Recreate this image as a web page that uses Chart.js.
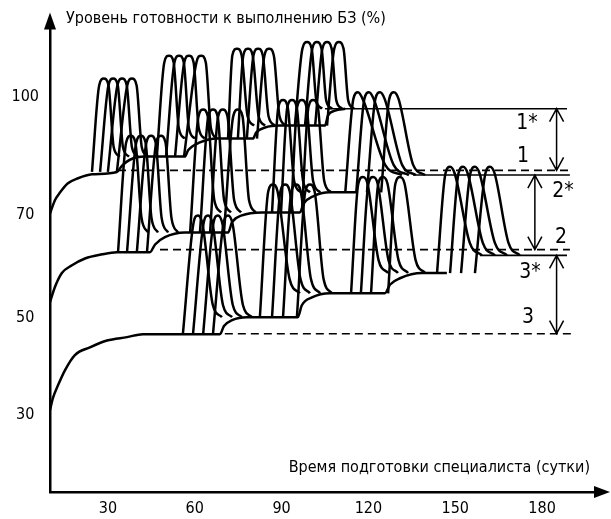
<!DOCTYPE html>
<html><head><meta charset="utf-8">
<script src="https://cdn.jsdelivr.net/npm/chart.js@4.4.1/dist/chart.umd.min.js"></script>
<style>html,body{margin:0;padding:0;background:#fff}#wrap{width:611px;height:519px}</style>
</head><body><div id="wrap"><canvas id="c" width="611" height="519"></canvas></div>
<script>
// ---- text ----
const yAxisTitle = 'Уровень готовности к выполнению БЗ (%)';
const xAxisTitle = 'Время подготовки специалиста (сутки)';
const xTickValues = [30, 60, 90, 120, 150, 180];
const yTickValues = [30, 50, 70, 100];

// ---- base / plateau curves of the three trajectories [day, %] ----
const env1 = [[10.0,70.2],[11.7,73.6],[13.5,75.6],[16.2,77.9],[19.7,79.2],[24.5,80.2],[33.1,80.8],[34.9,82.4],[37.6,83.9],[42.8,84.7],[56.6,84.7],[57.7,86.3],[61.8,88.3],[67.7,89.3],[80.1,89.3],[81.2,90.8],[84.3,92.1],[89.4,92.6],[105.0,92.6],[106.0,95.1],[108.5,96.4],[112.0,96.9]];
const env2 = [[10.0,53.1],[11.7,56.0],[14.1,58.7],[17.6,60.2],[22.1,61.5],[28.0,62.3],[33.1,62.7],[44.5,62.7],[46.3,64.2],[49.7,65.6],[56.6,66.5],[71.5,66.5],[72.9,68.5],[76.3,69.8],[83.2,70.5],[96.3,70.5],[97.7,72.8],[100.9,74.6],[106.7,75.6],[116.4,75.6]];
const env3 = [[10.0,31.0],[11.0,33.5],[12.8,36.2],[15.2,39.3],[18.6,42.4],[23.8,44.0],[29.7,45.4],[36.6,46.1],[42.1,46.7],[68.7,46.7],[70.1,48.4],[72.9,49.6],[78.0,50.2],[95.6,50.2],[97.0,52.5],[100.5,54.0],[106.7,54.8],[125.7,54.8],[127.5,56.5],[130.9,57.7],[138.5,58.7],[147.1,58.7]];

// ---- training peaks: 12 groups of 4 (groups 1a-1d, 2a-2d, 3a-3d) ----
const bellFeet = [
 [24.5,27.3,30.0,33.1],[46.9,50.1,53.2,56.3],[71.5,74.9,78.0,81.5],[94.6,98.1,101.6,105.7],
 [33.5,36.6,40.0,43.5],[58.4,61.8,65.3,70.1],[86.7,89.8,93.3,97.0],[112.0,115.8,119.5,124.4],
 [55.9,59.4,62.9,66.3],[82.5,86.7,90.5,95.3],[114.0,117.4,120.9,126.8],[143.7,148.2,152.0,156.8]
];
const bellPeaks = [
 [28.6,31.8,34.9,38.3],[51.1,54.6,58.0,62.2],[74.6,78.4,81.9,85.7],[98.8,102.2,105.7,109.8],
 [37.9,41.4,44.9,48.3],[62.9,66.3,69.7,74.9],[90.5,93.6,97.0,100.9],[116.4,120.2,124.0,128.8],
 [61.1,64.6,68.0,71.5],[87.0,91.2,95.0,99.8],[118.1,121.6,125.0,130.9],[148.2,152.7,156.8,162.0]
];
const bellEnds = [
 [34.1,37.3,40.4,43.8],[56.6,60.1,63.5,67.7],[80.5,84.3,87.7,91.5],[104.0,107.4,110.9,115.0],
 [43.9,47.3,50.8,54.2],[69.1,72.5,76.0,81.1],[96.7,99.8,103.3,107.1],[131.6,134.0,136.4,139.6],
 [69.4,72.9,76.3,79.8],[96.3,99.8,103.3,107.4],[126.8,130.2,133.7,139.6],[159.2,163.7,167.9,172.3]
];
const bellFrom = [80.8,84.7,89.3,92.6, 62.7,66.5,70.5,75.6, 46.7,50.2,54.8,58.7];
const bellTop  = [104.6,110.5,112.3,114.0, 90.0,96.7,99.1,101.1, 69.8,77.6,79.5,82.1];
const bellTo   = [84.7,89.3,92.6,96.9, 66.5,70.5,75.6,80.0, 50.2,54.8,58.7,62.1];

// ---- reference levels ----
const dashedLevels = [81.2, 63.2, 46.8];
const dashedFrom   = [33.5, 48.0, 70.4];
const dashedTo     = [190.3, 189.6, 191.3];
const starLevels   = [96.9, 80.0, 62.1];
const starFrom     = [105.0, 135.4, 158.5];
const starTo       = [188.6, 189.6, 188.6];
const arrowX       = [185.0, 177.5, 185.0];
const levelLabels  = ['1*','1','2*','2','3*','3'];
const levelLabelX  = [174.8,173.4,187.2,186.5,175.8,175.1];
const levelLabelY  = [93.1,84.7,75.8,65.6,58.7,50.2];

// ---- non-linear (piecewise) value axis as drawn in the original ----
const yAnchorValues = [14, 30, 50, 70, 100, 119.5];
const yAnchorFracs  = [0, 0.16314, 0.36864, 0.58898, 0.83898, 1];
function interp(v, xs, ys) {
  let i = 0;
  while (i < xs.length - 2 && v > xs[i+1]) i++;
  return ys[i] + (v - xs[i]) * (ys[i+1] - ys[i]) / (xs[i+1] - xs[i]);
}
class PiecewiseScale extends Chart.LinearScale {
  getPixelForValue(value) { return this.getPixelForDecimal(interp(value, yAnchorValues, yAnchorFracs)); }
  getValueForPixel(pixel) { return interp(this.getDecimalForPixel(pixel), yAnchorFracs, yAnchorValues); }
}
PiecewiseScale.id = 'piecewise';
PiecewiseScale.defaults = Chart.LinearScale.defaults;
Chart.register(PiecewiseScale);

// ---- datasets ----
const curve = {borderColor:'#000', borderWidth:2.5, pointRadius:0, fill:false, cubicInterpolationMode:'monotone'};
const datasets = [];
[env1, env2, env3].forEach(e => datasets.push(Object.assign({data: e.map(p => ({x:p[0], y:p[1]}))}, curve)));
bellFeet.forEach((feet, g) => feet.forEach((xf, k) => {
  const xp = bellPeaks[g][k], xe = bellEnds[g][k];
  const lo = bellFrom[g], hi = bellTop[g], to = bellTo[g];
  const xt = xp + 0.62 * (xe - xp);
  datasets.push(Object.assign({data: [
    {x:xf, y:lo}, {x:xp-1.6, y:hi-1.7}, {x:xp, y:hi}, {x:xp+1.6, y:hi-1.7},
    {x:xt, y:to + 0.12*(hi-to)}, {x:xe, y:to}
  ]}, curve));
}));
dashedLevels.forEach((lv, i) => datasets.push({data:[{x:dashedFrom[i],y:lv},{x:dashedTo[i],y:lv}],
  borderColor:'#000', borderWidth:1.6, borderDash:[8,5], pointRadius:0, tension:0}));
starLevels.forEach((lv, i) => datasets.push({data:[{x:starFrom[i],y:lv},{x:starTo[i],y:lv}],
  borderColor:'#000', borderWidth:1.6, pointRadius:0, tension:0}));

const FONT = '"DejaVu Sans Condensed", "DejaVu Sans", sans-serif';
const decor = {
  id: 'decor',
  afterDraw(chart) {
    const {ctx, chartArea: a, scales: {x, y}} = chart;
    ctx.save();
    ctx.fillStyle = '#000'; ctx.strokeStyle = '#000';
    // axis arrowheads
    ctx.beginPath(); ctx.moveTo(a.left, a.top - 8); ctx.lineTo(a.left - 6, a.top + 9); ctx.lineTo(a.left + 6, a.top + 9); ctx.closePath(); ctx.fill();
    ctx.beginPath(); ctx.moveTo(a.right + 10, a.bottom); ctx.lineTo(a.right - 6, a.bottom - 6); ctx.lineTo(a.right - 6, a.bottom + 6); ctx.closePath(); ctx.fill();
    // double arrows
    ctx.lineWidth = 1.5;
    arrowX.forEach((ax, i) => {
      const px = x.getPixelForValue(ax);
      const y1 = y.getPixelForValue(starLevels[i]), y2 = y.getPixelForValue(dashedLevels[i]);
      ctx.beginPath(); ctx.moveTo(px, y1); ctx.lineTo(px, y2);
      ctx.moveTo(px - 7, y1 + 13); ctx.lineTo(px, y1); ctx.lineTo(px + 7, y1 + 13);
      ctx.moveTo(px - 7, y2 - 13); ctx.lineTo(px, y2); ctx.lineTo(px + 7, y2 - 13);
      ctx.stroke();
    });
    // level labels
    ctx.font = '21px ' + FONT; ctx.textAlign = 'center'; ctx.textBaseline = 'middle';
    levelLabels.forEach((t, i) => ctx.fillText(t, x.getPixelForValue(levelLabelX[i]), y.getPixelForValue(levelLabelY[i])));
    // axis titles
    ctx.font = '16px ' + FONT;
    ctx.textAlign = 'left'; ctx.fillText(yAxisTitle, a.left + 16, a.top - 2);
    ctx.textAlign = 'right'; ctx.fillText(xAxisTitle, a.right - 10, a.bottom - 24);
    ctx.restore();
  }
};

const tickFont = {family: '"DejaVu Sans Condensed", "DejaVu Sans", sans-serif', size: 16};
new Chart(document.getElementById('c'), {
  type: 'line',
  data: {datasets},
  options: {
    responsive: false, animation: false, devicePixelRatio: 1,
    layout: {padding: {top: 20, right: 11, bottom: 0, left: 0}},
    plugins: {legend: {display: false}, tooltip: {enabled: false}},
    scales: {
      x: {type: 'linear', min: 10, max: 200,
        grid: {display: false, drawTicks: false},
        border: {display: true, color: '#000', width: 2.5},
        afterBuildTicks: s => { s.ticks = xTickValues.map(v => ({value: v})); },
        afterFit: s => { s.height = 27; },
        ticks: {color: '#000', font: tickFont, padding: 7, maxRotation: 0}},
      y: {type: 'piecewise', min: 14, max: 119.5,
        grid: {display: false, drawTicks: false},
        border: {display: true, color: '#000', width: 2.5},
        afterBuildTicks: s => { s.ticks = yTickValues.map(v => ({value: v})); },
        afterFit: s => { s.width = 50; },
        ticks: {color: '#000', font: tickFont, padding: 11, crossAlign: 'center'}}
    }
  },
  plugins: [decor]
});
</script></body></html>
